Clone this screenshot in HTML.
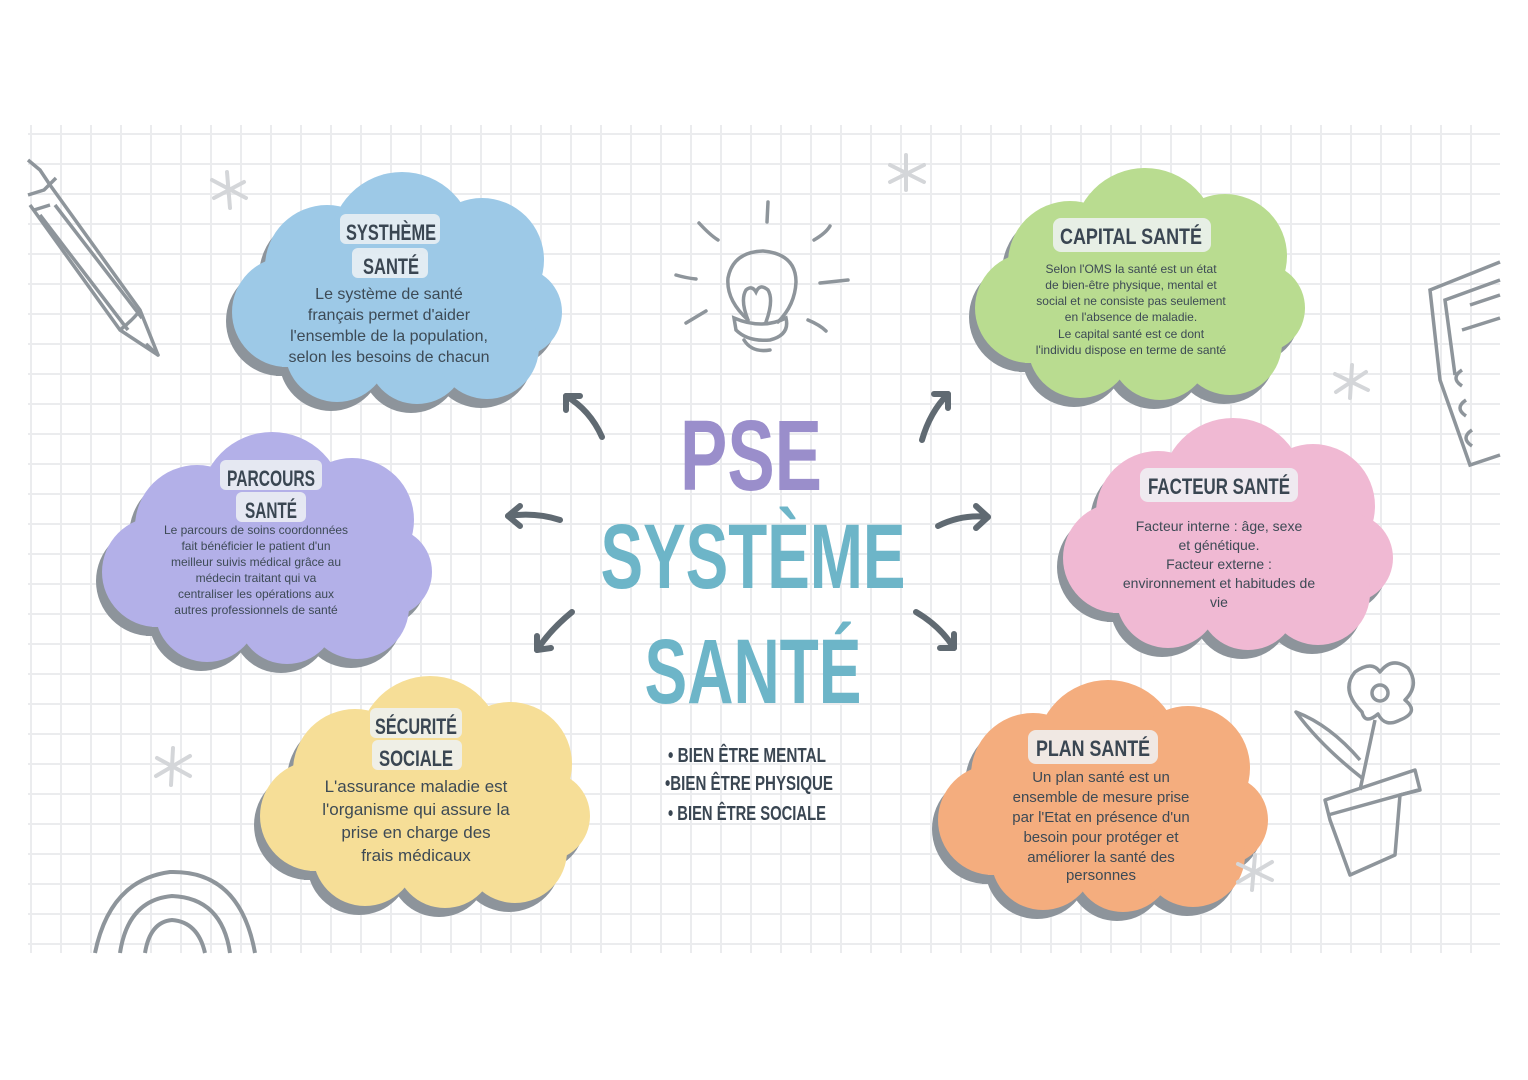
<!DOCTYPE html>
<html><head><meta charset="utf-8">
<style>
html,body{margin:0;padding:0;background:#fff;}
#wrap{position:relative;width:1528px;height:1080px;overflow:hidden;background:#fff;}
#grid{position:absolute;left:28px;top:125px;width:1472px;height:828px;
background-image:linear-gradient(to right,#ebecee 2px,transparent 2px),linear-gradient(to bottom,#ebecee 2px,transparent 2px);
background-size:30px 30px;background-position:2px 8px;}
svg{position:absolute;left:0;top:0;}
.t{font-family:"Liberation Sans",sans-serif;fill:#3d4a55;text-anchor:middle;}
.h{font-family:"Liberation Sans",sans-serif;font-weight:bold;fill:#3a4652;text-anchor:middle;}
</style></head><body><div id="wrap"><div id="grid"></div>
<svg width="1528" height="1080" viewBox="0 0 1528 1080">
<defs>
<g id="cloud">
<circle cx="95" cy="95" r="62"/><circle cx="170" cy="72" r="72"/><circle cx="250" cy="88" r="62"/>
<circle cx="285" cy="140" r="45"/><circle cx="55" cy="140" r="55"/><circle cx="105" cy="178" r="52"/>
<circle cx="185" cy="182" r="50"/><circle cx="255" cy="175" r="52"/><rect x="50" y="70" width="245" height="125"/>
</g>
</defs>
<g transform="translate(232,172)"><use href="#cloud" fill="#8d949b" transform="translate(-6,9)"/><use href="#cloud" fill="#9dc9e7"/></g>
<g transform="translate(102,432)"><use href="#cloud" fill="#8d949b" transform="translate(-6,9)"/><use href="#cloud" fill="#b3b0e8"/></g>
<g transform="translate(260,676)"><use href="#cloud" fill="#8d949b" transform="translate(-6,9)"/><use href="#cloud" fill="#f6de97"/></g>
<g transform="translate(975,168)"><use href="#cloud" fill="#8d949b" transform="translate(-6,9)"/><use href="#cloud" fill="#b9dc90"/></g>
<g transform="translate(1063,418)"><use href="#cloud" fill="#8d949b" transform="translate(-6,9)"/><use href="#cloud" fill="#f0b9d3"/></g>
<g transform="translate(938,680)"><use href="#cloud" fill="#8d949b" transform="translate(-6,9)"/><use href="#cloud" fill="#f4ad7e"/></g>

<g fill="#eef2f4" opacity="0.85">
<rect x="340" y="214" width="100" height="30" rx="6"/><rect x="352" y="248" width="76" height="30" rx="6"/>
<rect x="220" y="460" width="102" height="30" rx="6"/><rect x="236" y="492" width="70" height="30" rx="6"/>
<rect x="370" y="708" width="92" height="30" rx="6"/><rect x="372" y="740" width="90" height="30" rx="6"/>
<rect x="1053" y="218" width="158" height="34" rx="8"/>
<rect x="1140" y="468" width="158" height="34" rx="8"/>
<rect x="1028" y="730" width="130" height="34" rx="8"/>
</g>
<g class="h" font-size="22">
<text x="391" y="240" textLength="90" lengthAdjust="spacingAndGlyphs">SYSTHÈME</text><text x="391" y="274" textLength="56" lengthAdjust="spacingAndGlyphs">SANTÉ</text>
<text x="271" y="486" textLength="88" lengthAdjust="spacingAndGlyphs">PARCOURS</text><text x="271" y="518" textLength="52" lengthAdjust="spacingAndGlyphs">SANTÉ</text>
<text x="416" y="734" textLength="82" lengthAdjust="spacingAndGlyphs">SÉCURITÉ</text><text x="416" y="766" textLength="74" lengthAdjust="spacingAndGlyphs">SOCIALE</text>
<text x="1131" y="244" textLength="142" lengthAdjust="spacingAndGlyphs">CAPITAL SANTÉ</text>
<text x="1219" y="494" textLength="142" lengthAdjust="spacingAndGlyphs">FACTEUR SANTÉ</text>
<text x="1093" y="756" textLength="114" lengthAdjust="spacingAndGlyphs">PLAN SANTÉ</text>
</g>
<g class="t" font-size="16">
<text x="389" y="299">Le système de santé</text><text x="389" y="320">français permet d'aider</text>
<text x="389" y="341">l'ensemble de la population,</text><text x="389" y="362">selon les besoins de chacun</text>
</g>
<g class="t" font-size="12">
<text x="256" y="534">Le parcours de soins coordonnées</text><text x="256" y="550">fait bénéficier le patient d'un</text>
<text x="256" y="566">meilleur suivis médical grâce au</text><text x="256" y="582">médecin traitant qui va</text>
<text x="256" y="598">centraliser les opérations aux</text><text x="256" y="614">autres professionnels de santé</text>
</g>
<g class="t" font-size="17">
<text x="416" y="792">L'assurance maladie est</text><text x="416" y="815">l'organisme qui assure la</text>
<text x="416" y="838">prise en charge des</text><text x="416" y="861">frais médicaux</text>
</g>
<g class="t" font-size="12">
<text x="1131" y="273">Selon l'OMS la santé est un état</text><text x="1131" y="289">de bien-être physique, mental et</text>
<text x="1131" y="305">social et ne consiste pas seulement</text><text x="1131" y="321">en l'absence de maladie.</text>
<text x="1131" y="338">Le capital santé est ce dont</text><text x="1131" y="354">l'individu dispose en terme de santé</text>
</g>
<g class="t" font-size="14">
<text x="1219" y="531">Facteur interne : âge, sexe</text><text x="1219" y="550">et génétique.</text>
<text x="1219" y="569">Facteur externe :</text><text x="1219" y="588">environnement et habitudes de</text>
<text x="1219" y="607">vie</text>
</g>
<g class="t" font-size="15">
<text x="1101" y="782">Un plan santé est un</text><text x="1101" y="802">ensemble de mesure prise</text>
<text x="1101" y="822">par l'Etat en présence d'un</text><text x="1101" y="842">besoin pour protéger et</text>
<text x="1101" y="862">améliorer la santé des</text><text x="1101" y="880">personnes</text>
</g>

<text x="751" y="490" font-family="Liberation Sans,sans-serif" font-weight="bold" font-size="100" fill="#9a8ecb" text-anchor="middle" textLength="142" lengthAdjust="spacingAndGlyphs">PSE</text>
<text x="753" y="588" font-family="Liberation Sans,sans-serif" font-weight="bold" font-size="92" fill="#6db5c8" text-anchor="middle" textLength="305" lengthAdjust="spacingAndGlyphs">SYSTÈME</text>
<text x="753" y="703" font-family="Liberation Sans,sans-serif" font-weight="bold" font-size="92" fill="#6db5c8" text-anchor="middle" textLength="217" lengthAdjust="spacingAndGlyphs">SANTÉ</text>
<g class="h" font-size="20">
<text x="668" y="762" style="text-anchor:start" textLength="158" lengthAdjust="spacingAndGlyphs">• BIEN ÊTRE MENTAL</text>
<text x="665" y="790" style="text-anchor:start" textLength="168" lengthAdjust="spacingAndGlyphs">•BIEN ÊTRE PHYSIQUE</text>
<text x="668" y="820" style="text-anchor:start" textLength="158" lengthAdjust="spacingAndGlyphs">• BIEN ÊTRE SOCIALE</text>
</g>

<g stroke="#606a72" stroke-width="6" fill="none" stroke-linecap="round" stroke-linejoin="round">
<path d="M602 437 Q590 410 566 396"/><path d="M566 410 L566 396 L580 396"/>
<path d="M560 520 Q535 512 508 516"/><path d="M520 506 L508 516 L520 526"/>
<path d="M572 612 Q550 630 537 650"/><path d="M537 636 L537 650 L551 648"/>
<path d="M922 440 Q930 412 948 394"/><path d="M934 394 L948 394 L948 408"/>
<path d="M938 526 Q962 514 988 517"/><path d="M976 506 L988 517 L976 528"/>
<path d="M916 612 Q940 626 954 648"/><path d="M940 648 L954 648 L954 634"/>
</g>

<g stroke="#8e959b" stroke-width="3.5" fill="none" stroke-linecap="round">
<path d="M768 202 L767 222"/><path d="M699 223 Q710 235 718 240"/><path d="M814 240 Q826 233 830 226"/>
<path d="M676 275 Q686 278 696 279"/><path d="M820 283 L848 280"/><path d="M686 323 L706 311"/><path d="M808 320 Q820 325 826 331"/>
<path d="M748 320 Q726 300 728 278 Q733 252 763 251 Q796 254 796 282 Q795 305 778 322"/>
<path d="M748 320 Q740 300 746 290 Q752 285 756 292 Q760 283 768 290 Q774 300 766 322"/>
<path d="M734 318 Q762 330 786 318 Q790 335 770 340 Q748 342 736 330 Z"/>
<path d="M744 340 Q752 353 770 350"/>
</g>

<g stroke="#8e959b" stroke-width="3.5" fill="none" stroke-linejoin="round">
<path d="M28 160 L40 170 L50 185 L140 310 L158 355 L120 330 L30 205"/>
<path d="M28 195 L44 190 L56 178"/><path d="M34 210 L50 205"/>
<path d="M40 215 L128 330"/><path d="M55 205 L142 318"/>
<path d="M120 330 Q135 318 140 310"/><path d="M150 348 L158 355 L146 344"/>
</g>
<g stroke="#8e959b" stroke-width="3.5" fill="none">
<path d="M1500 262 L1430 290 L1440 380 L1470 465 L1500 455"/>
<path d="M1500 280 L1445 300 L1455 375"/>
<path d="M1470 305 L1500 295"/><path d="M1462 330 L1500 318"/>
<path d="M1462 370 Q1450 378 1462 386"/><path d="M1466 400 Q1454 408 1466 416"/><path d="M1472 430 Q1460 438 1472 446"/>
</g>
<g stroke="#8e959b" stroke-width="3.5" fill="none" stroke-linejoin="round">
<path d="M1362 712 Q1340 690 1355 672 Q1372 660 1380 672 Q1392 656 1408 668 Q1420 685 1405 700 Q1420 712 1400 720 Q1385 728 1378 714 Q1365 725 1362 712 Z"/>
<circle cx="1380" cy="693" r="8"/>
<path d="M1375 720 L1360 790"/>
<path d="M1362 778 Q1320 745 1296 712 Q1330 725 1360 760"/>
<path d="M1325 800 L1415 770 L1420 790 L1400 795 L1395 855 L1350 875 L1330 820 L1325 800 Z"/><path d="M1328 815 L1418 790"/>
</g>
<g stroke="#8e959b" stroke-width="4" fill="none">
<path d="M95 953 Q110 880 170 872 Q240 870 255 953"/>
<path d="M120 953 Q128 900 172 896 Q222 898 230 953"/>
<path d="M145 953 Q150 922 172 920 Q198 922 205 953"/>
</g>
<g stroke="#d4d6d9" stroke-width="4" stroke-linecap="round">
<path d="M227 172 L230 208 M212 180 L246 198 M214 198 L244 182"/>
<path d="M906 155 L906 190 M890 165 L924 182 M890 182 L924 165"/>
<path d="M1352 365 L1350 398 M1335 374 L1368 390 M1336 392 L1366 372"/>
<path d="M173 748 L171 785 M157 758 L190 776 M156 776 L190 756"/>
<path d="M1255 855 L1252 890 M1238 864 L1272 880 M1238 882 L1272 862"/>
</g>
</svg></div></body></html>
